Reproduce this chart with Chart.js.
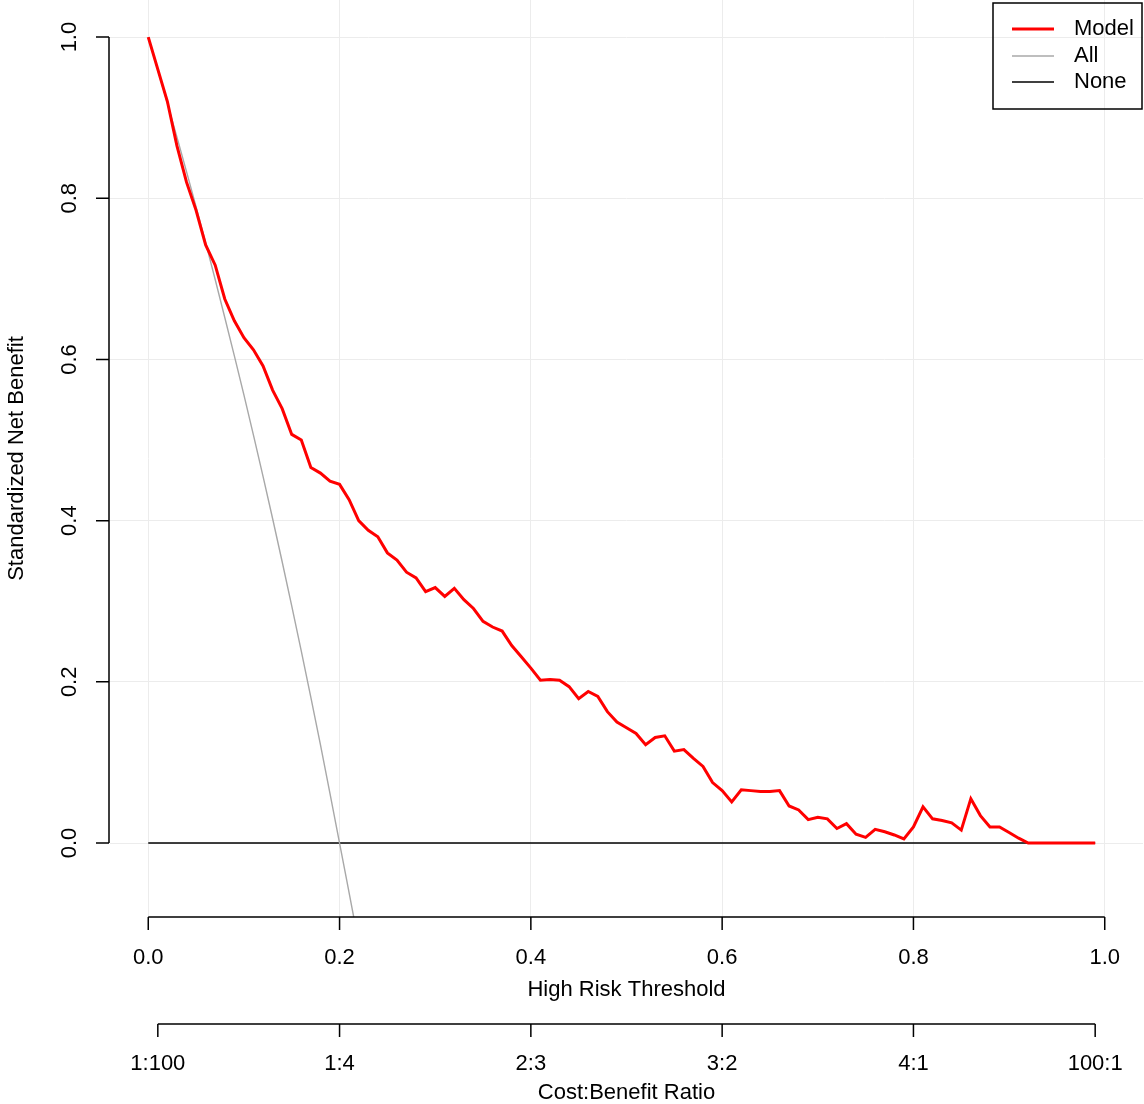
<!DOCTYPE html>
<html>
<head>
<meta charset="utf-8">
<script src="https://cdn.jsdelivr.net/npm/chart.js@4.4.1/dist/chart.umd.min.js"></script>
<style>
  html, body { margin: 0; padding: 0; background: #fff; }
  canvas { display: block; }
</style>
</head>
<body>
<canvas id="dca" width="1144" height="1104"></canvas>
<script>
// threshold probabilities where the model curve was evaluated
const thresholds = [
  0.00, 0.01, 0.02, 0.03, 0.04, 0.05, 0.06, 0.07, 0.08, 0.09,
  0.10, 0.11, 0.12, 0.13, 0.14, 0.15, 0.16, 0.17, 0.18, 0.19,
  0.20, 0.21, 0.22, 0.23, 0.24, 0.25, 0.26, 0.27, 0.28, 0.29,
  0.30, 0.31, 0.32, 0.33, 0.34, 0.35, 0.36, 0.37, 0.38, 0.39,
  0.40, 0.41, 0.42, 0.43, 0.44, 0.45, 0.46, 0.47, 0.48, 0.49,
  0.50, 0.51, 0.52, 0.53, 0.54, 0.55, 0.56, 0.57, 0.58, 0.59,
  0.60, 0.61, 0.62, 0.63, 0.64, 0.65, 0.66, 0.67, 0.68, 0.69,
  0.70, 0.71, 0.72, 0.73, 0.74, 0.75, 0.76, 0.77, 0.78, 0.79,
  0.80, 0.81, 0.82, 0.83, 0.84, 0.85, 0.86, 0.87, 0.88, 0.89,
  0.90, 0.91, 0.92, 0.93, 0.94, 0.95, 0.96, 0.97, 0.98, 0.99
];

// standardized net benefit of the model
const modelBenefit = [
  1.000, 0.960, 0.920, 0.865, 0.820, 0.785, 0.742, 0.717, 0.675, 0.648,
  0.627, 0.612, 0.592, 0.562, 0.539, 0.507, 0.500, 0.466, 0.459, 0.449,
  0.445, 0.426, 0.400, 0.388, 0.380, 0.360, 0.351, 0.336, 0.329, 0.312,
  0.317, 0.306, 0.316, 0.302, 0.291, 0.275, 0.268, 0.263, 0.245, 0.231,
  0.217, 0.202, 0.203, 0.202, 0.194, 0.179, 0.188, 0.182, 0.163, 0.150,
  0.143, 0.136, 0.122, 0.131, 0.133, 0.114, 0.116, 0.105, 0.095, 0.075,
  0.065, 0.051, 0.066, 0.065, 0.064, 0.064, 0.065, 0.046, 0.041, 0.029,
  0.032, 0.030, 0.018, 0.024, 0.011, 0.007, 0.017, 0.014, 0.010, 0.005,
  0.020, 0.045, 0.030, 0.028, 0.025, 0.016, 0.055, 0.034, 0.020, 0.020,
  0.013, 0.006, 0.000, 0.000, 0.000, 0.000, 0.000, 0.000, 0.000, 0.000
];

// "treat all" curve (runs out below the plot)
const allThresholds = [0.00, 0.02, 0.04, 0.06, 0.08, 0.10, 0.12, 0.14, 0.16, 0.18, 0.20, 0.215];
const allBenefit    = [1.000, 0.918, 0.833, 0.745, 0.652, 0.556, 0.455, 0.349, 0.238, 0.122, 0.000, -0.093];

// "treat none"
const noneThresholds = [0.00, 0.99];
const noneBenefit    = [0, 0];

// axes
const xTicks = [0, 0.2, 0.4, 0.6, 0.8, 1.0];
const xTickLabels = ['0.0', '0.2', '0.4', '0.6', '0.8', '1.0'];
const yTicks = [0, 0.2, 0.4, 0.6, 0.8, 1.0];
const yTickLabels = ['0.0', '0.2', '0.4', '0.6', '0.8', '1.0'];
const costTicks = [0.01, 0.2, 0.4, 0.6, 0.8, 0.99];
const costTickLabels = ['1:100', '1:4', '2:3', '3:2', '4:1', '100:1'];

const legendNames = ['Model', 'All', 'None'];

const FONT = '22px "Liberation Sans", Arial, sans-serif';

function pairUp(xs, ys) {
  return xs.map((x, i) => ({ x: x, y: ys[i] }));
}

// base R style axes, second axis and legend
const rAxes = {
  id: 'rAxes',
  afterDraw(chart) {
    const ctx = chart.ctx;
    const xs = chart.scales.x;
    const ys = chart.scales.y;
    const area = chart.chartArea;
    ctx.save();
    ctx.strokeStyle = '#000';
    ctx.fillStyle = '#000';
    ctx.lineWidth = 1.5;
    ctx.font = FONT;

    // y axis
    const yAxisX = area.left - 1;
    ctx.beginPath();
    ctx.moveTo(yAxisX, ys.getPixelForValue(0));
    ctx.lineTo(yAxisX, ys.getPixelForValue(1));
    yTicks.forEach(v => {
      const py = ys.getPixelForValue(v);
      ctx.moveTo(yAxisX, py);
      ctx.lineTo(yAxisX - 13, py);
    });
    ctx.stroke();
    ctx.textAlign = 'center';
    ctx.textBaseline = 'middle';
    yTicks.forEach((v, i) => {
      const py = ys.getPixelForValue(v);
      ctx.save();
      ctx.translate(70, py);
      ctx.rotate(-Math.PI / 2);
      ctx.fillText(yTickLabels[i], 0, 0);
      ctx.restore();
    });
    ctx.save();
    ctx.translate(17, (area.top + area.bottom) / 2);
    ctx.rotate(-Math.PI / 2);
    ctx.fillText('Standardized Net Benefit', 0, 0);
    ctx.restore();

    // threshold axis
    const xAxisY = area.bottom;
    ctx.beginPath();
    ctx.moveTo(xs.getPixelForValue(xTicks[0]), xAxisY);
    ctx.lineTo(xs.getPixelForValue(xTicks[xTicks.length - 1]), xAxisY);
    xTicks.forEach(v => {
      const px = xs.getPixelForValue(v);
      ctx.moveTo(px, xAxisY);
      ctx.lineTo(px, xAxisY + 13);
    });
    ctx.stroke();
    xTicks.forEach((v, i) => {
      ctx.fillText(xTickLabels[i], xs.getPixelForValue(v), 958);
    });
    ctx.fillText('High Risk Threshold', (area.left + area.right) / 2, 990);

    // cost:benefit axis
    const cbY = 1024;
    ctx.beginPath();
    ctx.moveTo(xs.getPixelForValue(costTicks[0]), cbY);
    ctx.lineTo(xs.getPixelForValue(costTicks[costTicks.length - 1]), cbY);
    costTicks.forEach(v => {
      const px = xs.getPixelForValue(v);
      ctx.moveTo(px, cbY);
      ctx.lineTo(px, cbY + 13);
    });
    ctx.stroke();
    costTicks.forEach((v, i) => {
      ctx.fillText(costTickLabels[i], xs.getPixelForValue(v), 1064);
    });
    ctx.fillText('Cost:Benefit Ratio', (area.left + area.right) / 2, 1093);

    // legend
    ctx.lineWidth = 1.5;
    ctx.strokeRect(993, 3, 149, 106);
    ctx.textAlign = 'left';
    const rows = [29, 56, 82];
    chart.data.datasets.forEach((ds, i) => {
      ctx.beginPath();
      ctx.strokeStyle = ds.borderColor;
      ctx.lineWidth = ds.borderWidth;
      ctx.moveTo(1012, rows[i]);
      ctx.lineTo(1054, rows[i]);
      ctx.stroke();
      ctx.fillText(legendNames[i], 1074, rows[i]);
    });
    ctx.restore();
  }
};

const gridScale = ticks => ({
  type: 'linear',
  display: true,
  afterBuildTicks: s => { s.ticks = ticks.map(v => ({ value: v })); },
  afterFit: s => { s.width = s.isHorizontal() ? s.width : 0; if (s.isHorizontal()) s.height = 0; },
  ticks: { display: false },
  border: { display: false },
  grid: { color: '#ececec', lineWidth: 1, drawTicks: false }
});

new Chart(document.getElementById('dca'), {
  type: 'line',
  data: {
    datasets: [
      {
        label: 'Model',
        data: pairUp(thresholds, modelBenefit),
        borderColor: '#ff0000',
        borderWidth: 3,
        pointRadius: 0,
        tension: 0
      },
      {
        label: 'All',
        data: pairUp(allThresholds, allBenefit),
        borderColor: '#a8a8a8',
        borderWidth: 1.4,
        pointRadius: 0,
        tension: 0.3
      },
      {
        label: 'None',
        data: pairUp(noneThresholds, noneBenefit),
        borderColor: '#000000',
        borderWidth: 1.5,
        pointRadius: 0,
        tension: 0
      }
    ]
  },
  options: {
    responsive: false,
    animation: false,
    layout: { padding: { left: 110, right: 1, top: 0, bottom: 187 } },
    scales: {
      x: Object.assign(gridScale(xTicks), { min: -0.04, max: 1.04 }),
      y: Object.assign(gridScale(yTicks), { min: -0.0918, max: 1.046 })
    },
    plugins: {
      legend: { display: false },
      tooltip: { enabled: false }
    }
  },
  plugins: [rAxes]
});
</script>
</body>
</html>
